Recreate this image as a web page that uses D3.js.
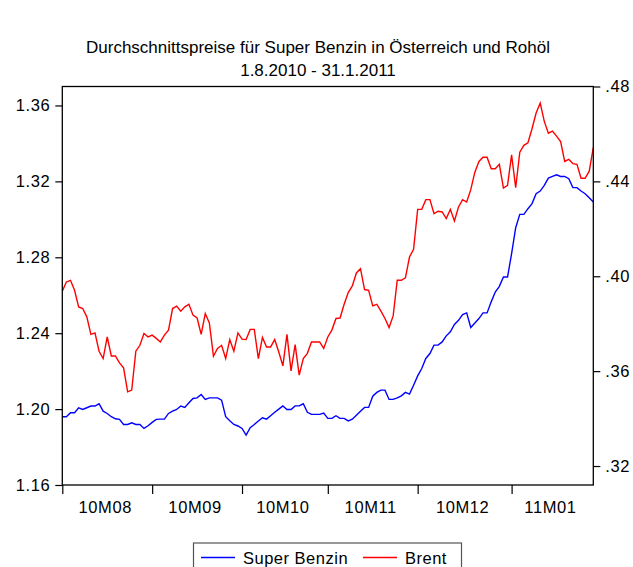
<!DOCTYPE html>
<html>
<head>
<meta charset="utf-8">
<script src="https://cdn.jsdelivr.net/npm/d3@7"></script>
<style>
    body { margin: 0; background: #fff; }
    text { font-family: "Liberation Sans", Arial, sans-serif; }
</style>
</head>
<body>
<script>
"use strict"

/* Tageswerte (Werktage) 2.8.2010 - 31.1.2011 */
const superBenzin = [
    1.1960, 1.1960, 1.1981, 1.1981, 1.2007, 1.1998, 1.2007, 1.2016, 1.2016, 1.2028,
    1.1989, 1.1977, 1.1960, 1.1949, 1.1946, 1.1919, 1.1919, 1.1928, 1.1919, 1.1919,
    1.1898, 1.1912, 1.1930, 1.1946, 1.1947, 1.1947, 1.1977, 1.1989, 1.1998, 1.2016,
    1.2009, 1.2033, 1.2056, 1.2059, 1.2077, 1.2051, 1.2059, 1.2059, 1.2059, 1.2047,
    1.1960, 1.1938, 1.1919, 1.1911, 1.1898, 1.1863, 1.1902, 1.1919, 1.1937, 1.1954,
    1.1947, 1.1965, 1.1983, 1.2000, 1.2017, 1.1998, 1.1998, 1.2017, 1.2017, 1.2028,
    1.1983, 1.1972, 1.1972, 1.1972, 1.1979, 1.1951, 1.1951, 1.1965, 1.1951, 1.1951,
    1.1938, 1.1947, 1.1968, 1.1989, 1.2009, 1.2009, 1.2068, 1.2088, 1.2100, 1.2100,
    1.2051, 1.2051, 1.2059, 1.2070, 1.2088, 1.2079, 1.2126, 1.2175, 1.2214, 1.2267,
    1.2293, 1.2337, 1.2337, 1.2354, 1.2386, 1.2407, 1.2446, 1.2468, 1.2498, 1.2507,
    1.2430, 1.2454, 1.2477, 1.2507, 1.2507, 1.2565, 1.2617, 1.2647, 1.2696, 1.2696,
    1.2819, 1.2956, 1.3026, 1.3026, 1.3056, 1.3083, 1.3135, 1.3149, 1.3179, 1.3217,
    1.3226, 1.3235, 1.3226, 1.3226, 1.3214, 1.3167, 1.3167, 1.3149, 1.3135, 1.3114,
    1.3091
];

const brent = [
    0.3937, 0.3976, 0.3983, 0.3941, 0.3871, 0.3864, 0.3829, 0.3755, 0.3761, 0.3684,
    0.3653, 0.3744, 0.3664, 0.3664, 0.3635, 0.3614, 0.3513, 0.3520, 0.3684, 0.3709,
    0.3759, 0.3744, 0.3752, 0.3738, 0.3723, 0.3752, 0.3773, 0.3864, 0.3874, 0.3853,
    0.3871, 0.3882, 0.3836, 0.3824, 0.3755, 0.3843, 0.3803, 0.3663, 0.3696, 0.3709,
    0.3653, 0.3733, 0.3684, 0.3761, 0.3735, 0.3733, 0.3776, 0.3776, 0.3653, 0.3742,
    0.3702, 0.3702, 0.3733, 0.3681, 0.3622, 0.3755, 0.3601, 0.3712, 0.3583, 0.3653,
    0.3675, 0.3723, 0.3723, 0.3723, 0.3696, 0.3744, 0.3773, 0.3822, 0.3824, 0.3882,
    0.3931, 0.3959, 0.4014, 0.4032, 0.3944, 0.3941, 0.3875, 0.3882, 0.3853, 0.3822,
    0.3784, 0.3833, 0.3983, 0.3983, 0.3993, 0.4081, 0.4114, 0.4282, 0.4282, 0.4323,
    0.4323, 0.4264, 0.4274, 0.4271, 0.4243, 0.4282, 0.4233, 0.4292, 0.4323, 0.4313,
    0.4365, 0.4439, 0.4484, 0.4502, 0.4502, 0.4453, 0.4453, 0.4472, 0.4372, 0.4383,
    0.4512, 0.4373, 0.4523, 0.4552, 0.4563, 0.4622, 0.4688, 0.4730, 0.4653, 0.4603,
    0.4612, 0.4591, 0.4568, 0.4484, 0.4493, 0.4475, 0.4472, 0.4413, 0.4413, 0.4443,
    0.4542
];

/* Monate: Beschriftung und Index des ersten Werktags */
const monate = ["10M08", "10M09", "10M10", "10M11", "10M12", "11M01"];
const monatsAnfang = [0, 22, 44, 65, 87, 110];

const linkeTicks = [1.16, 1.20, 1.24, 1.28, 1.32, 1.36];
const rechteTicks = [0.32, 0.36, 0.40, 0.44, 0.48];

const titel = ["Durchschnittspreise für Super Benzin in Österreich und Rohöl",
    "1.8.2010 - 31.1.2011"];
const serienNamen = ["Super Benzin", "Brent"];
const farben = ["#0000ff", "#ff0000"];

const grafik = { breite: 633, hoehe: 567, links: 62.3, rechts: 593.3, oben: 86.5, unten: 485 };

const svg = d3.select("body")
    .append("svg")
    .attr("width", grafik.breite)
    .attr("height", grafik.hoehe);

const x = d3.scaleLinear()
    .domain([0, superBenzin.length - 1])
    .range([grafik.links, grafik.rechts]);

const yLinks = d3.scaleLinear()
    .domain([1.16, 1.37])
    .range([grafik.unten, grafik.oben]);

const yRechts = d3.scaleLinear()
    .domain([0.312, 0.48])
    .range([grafik.unten, grafik.oben]);

/* Titel */
svg.selectAll("text.titel")
    .data(titel)
    .enter()
    .append("text")
    .attr("class", "titel")
    .attr("x", 318)
    .attr("y", function (d, i) { return 53 + i * 23 })
    .attr("text-anchor", "middle")
    .style("font-size", "17px")
    .text(function (d) { return d });

/* Linien */
const linie = function (skala) {
    return d3.line()
        .x(function (d, i) { return x(i) })
        .y(function (d) { return skala(d) });
};

svg.append("path")
    .datum(brent)
    .attr("fill", "none")
    .attr("stroke", farben[1])
    .attr("stroke-width", 1.4)
    .attr("d", linie(yRechts));

svg.append("path")
    .datum(superBenzin)
    .attr("fill", "none")
    .attr("stroke", farben[0])
    .attr("stroke-width", 1.4)
    .attr("d", linie(yLinks));

/* Rahmen */
svg.append("rect")
    .attr("x", grafik.links)
    .attr("y", grafik.oben)
    .attr("width", grafik.rechts - grafik.links)
    .attr("height", grafik.unten - grafik.oben)
    .attr("fill", "none")
    .attr("stroke", "#000")
    .attr("stroke-width", 1.3);

/* Achsen */
const achseLinks = svg.append("g")
    .attr("transform", "translate(" + grafik.links + ",0)")
    .call(d3.axisLeft(yLinks).tickValues(linkeTicks).tickSize(7).tickPadding(5)
        .tickFormat(d3.format(".2f")));

const achseRechts = svg.append("g")
    .attr("transform", "translate(" + grafik.rechts + ",0)")
    .call(d3.axisRight(yRechts).tickValues(rechteTicks).tickSize(7).tickPadding(5)
        .tickFormat(function (d) { return d3.format(".2f")(d).replace(/^0/, "") }));

const achseUnten = svg.append("g")
    .attr("transform", "translate(0," + grafik.unten + ")")
    .call(d3.axisBottom(x).tickValues(monatsAnfang).tickSize(9).tickFormat(""));

[achseLinks, achseRechts, achseUnten].forEach(function (a) {
    a.select(".domain").remove();
    a.selectAll("line").attr("stroke", "#000").attr("stroke-width", 1.2);
    a.selectAll("text")
        .attr("fill", "#000")
        .style("font-size", "16.5px")
        .style("letter-spacing", "0.6px")
        .style("font-family", "'Liberation Sans', Arial, sans-serif");
});

/* Monatsnamen mittig zwischen den Ticks */
svg.selectAll("text.monat")
    .data(monate)
    .enter()
    .append("text")
    .attr("class", "monat")
    .attr("x", function (d, i) {
        const ende = i + 1 < monatsAnfang.length ? monatsAnfang[i + 1] : superBenzin.length - 1;
        return (x(monatsAnfang[i]) + x(ende)) / 2 - 2;
    })
    .attr("y", 512.5)
    .attr("text-anchor", "middle")
    .style("font-size", "16.5px")
    .style("letter-spacing", "0.6px")
    .text(function (d) { return d });

/* Legende */
const legende = svg.append("g");
legende.append("rect")
    .attr("x", 193.5)
    .attr("y", 543)
    .attr("width", 268)
    .attr("height", 30)
    .attr("fill", "#fff")
    .attr("stroke", "#555")
    .attr("stroke-width", 1.2);

const legX = [201, 363];
serienNamen.forEach(function (name, i) {
    legende.append("line")
        .attr("x1", legX[i])
        .attr("x2", legX[i] + 34)
        .attr("y1", 557.5)
        .attr("y2", 557.5)
        .attr("stroke", farben[i])
        .attr("stroke-width", 1.4);
    legende.append("text")
        .attr("x", legX[i] + 42)
        .attr("y", 563.5)
        .style("font-size", "16.5px")
        .style("letter-spacing", "0.5px")
        .text(name);
});
</script>
</body>
</html>
